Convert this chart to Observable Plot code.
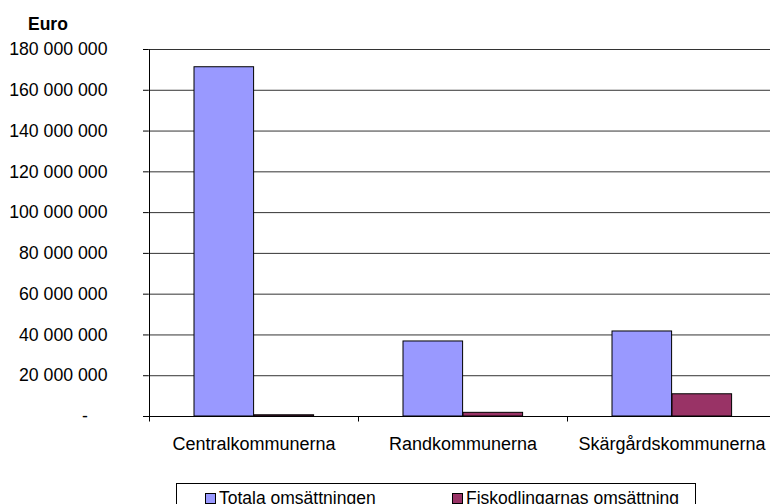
<!DOCTYPE html>
<html>
<head>
<meta charset="utf-8">
<script src="https://cdn.jsdelivr.net/npm/d3@7"></script>
<script src="https://cdn.jsdelivr.net/npm/@observablehq/plot@0.6"></script>
<style>
  html, body { margin: 0; padding: 0; background: #fff; }
  #wrap { position: relative; width: 770px; height: 504px; overflow: hidden; font-family: "Liberation Sans", Arial, sans-serif; }
  #unit { position: absolute; left: 28px; top: 14px; font-weight: bold; font-size: 17.5px; color: #000; }
  #legend { position: absolute; left: 176px; top: 483px; width: 520px; height: 30px; border: 1px solid #000; box-sizing: border-box; font-size: 17.5px; color: #000; }
  .item { position: absolute; top: 4px; white-space: nowrap; line-height: 20px; }
  .sw { display: inline-block; width: 9px; height: 9px; border: 1px solid #000; margin-right: 3px; vertical-align: 0px; }
</style>
</head>
<body>
<div id="wrap">
  <div id="chart"></div>
  <div id="unit">Euro</div>
  <div id="legend"></div>
</div>
<script>
const categories = ["Centralkommunerna", "Randkommunerna", "Skärgårdskommunerna"];
const series = ["Totala omsättningen", "Fiskodlingarnas omsättning"];
const totala = [171300000, 36800000, 41700000];
const fisk = [600000, 1800000, 10900000];
const colors = ["#9999FF", "#993366"];
const yTicks = [0, 20000000, 40000000, 60000000, 80000000, 100000000, 120000000, 140000000, 160000000, 180000000];

const rowsTot = categories.map((c, i) => ({cat: c, series: series[0], value: totala[i]}));
const rowsFisk = categories.map((c, i) => ({cat: c, series: series[1], value: fisk[i]}));

const W = 770, H = 504, ML = 148, MT = 49, MB = 88;
const step = 209.4;
const xRange = [ML, ML + step * categories.length];
const bw = step;

const fmt = d => d === 0 ? "-\u2007\u2007" : d3.format(",")(d).replace(/,/g, " ");

const plot = Plot.plot({
  width: W, height: H,
  marginLeft: ML, marginRight: 0, marginTop: MT, marginBottom: MB,
  style: {fontFamily: "'Liberation Sans', Arial, sans-serif", background: "#fff", color: "#000", overflow: "hidden"},
  x: {domain: categories, range: xRange, padding: 0, label: null},
  y: {domain: [0, 180000000], label: null},
  color: {domain: series, range: colors},
  marks: [
    Plot.ruleY(yTicks.filter(d => d > 0), {stroke: "#333", strokeWidth: 1}),
    Plot.barY(rowsTot, {x: "cat", y: "value", fill: "series", stroke: "#000", strokeWidth: 1,
      insetLeft: bw * 45 / 209.4, insetRight: bw * (209.4 - 105) / 209.4}),
    Plot.barY(rowsFisk, {x: "cat", y: "value", fill: "series", stroke: "#000", strokeWidth: 1,
      insetLeft: bw * 105 / 209.4, insetRight: bw * (209.4 - 165) / 209.4}),
    Plot.ruleY([0], {stroke: "#000", strokeWidth: 1}),
    Plot.axisY(yTicks, {tickSize: 5, tickPadding: 36, tickFormat: fmt, fontSize: 17.7, stroke: "#000", fill: "#000", label: null}),
    Plot.axisX({tickSize: 0, tickPadding: 21, fontSize: 18, fill: "#000", label: null})
  ]
});

// axis line and category boundary ticks from the library's scales
const xs = plot.scale("x");
const ys = plot.scale("y");
const svg = d3.select(plot);
const g = svg.append("g").attr("stroke", "#000").attr("stroke-width", 1).attr("transform", "translate(0.5,0.5)");
const y0 = ys.apply(0), yTop = ys.apply(180000000);
const bounds = categories.map(c => xs.apply(c)).concat([xs.apply(categories[categories.length - 1]) + xs.bandwidth]);
g.append("line").attr("x1", Math.round(bounds[0])).attr("x2", Math.round(bounds[0])).attr("y1", yTop).attr("y2", y0 + 5);
bounds.slice(1).forEach(b => {
  g.append("line").attr("x1", Math.round(b)).attr("x2", Math.round(b)).attr("y1", y0).attr("y2", y0 + 5);
});

document.getElementById("chart").appendChild(plot);

// legend
const legend = document.getElementById("legend");
const lx = [28, 275];
series.forEach((s, i) => {
  const it = document.createElement("div");
  it.className = "item";
  it.style.left = lx[i] + "px";
  const sw = document.createElement("span");
  sw.className = "sw";
  sw.style.background = colors[i];
  it.appendChild(sw);
  it.appendChild(document.createTextNode(s));
  legend.appendChild(it);
});
</script>
</body>
</html>
